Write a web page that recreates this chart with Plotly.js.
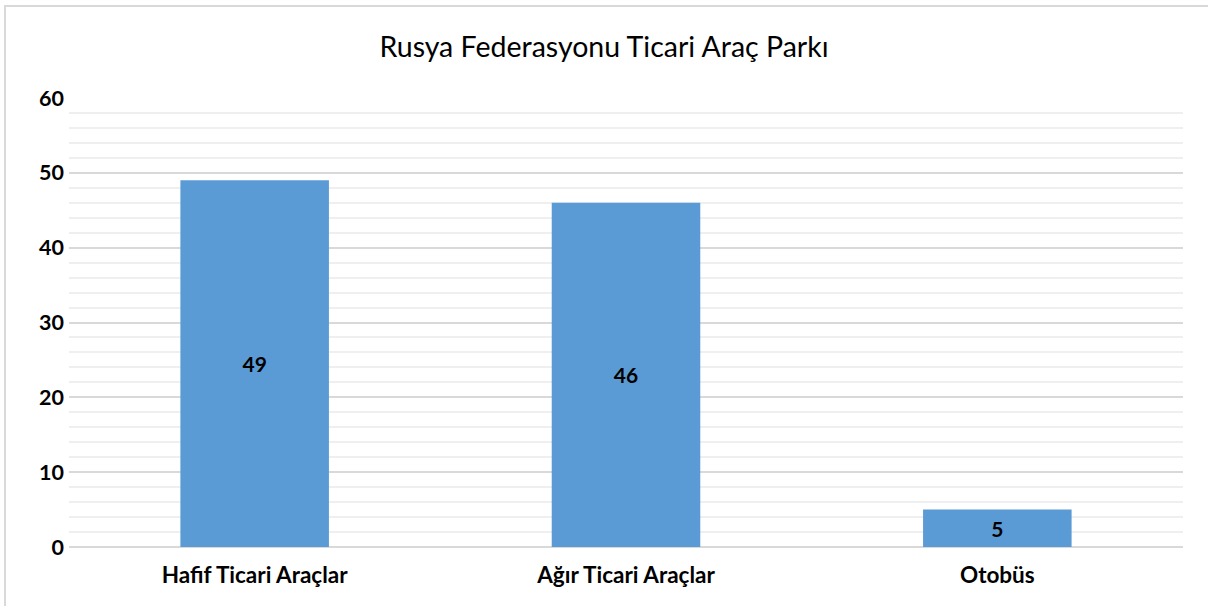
<!DOCTYPE html>
<html>
<head>
<meta charset="utf-8">
<script src="https://cdn.plot.ly/plotly-3.0.1.min.js"></script>
<style>
  html, body { margin: 0; padding: 0; background: #fff; }
  #wrap { position: relative; width: 1208px; height: 606px; }
  #chart { width: 1208px; height: 606px; }
  .bt { position: absolute; left: 4px; top: 5px; width: 1204px; height: 0; border-top: 2px solid #d9d9d9; }
  .bl { position: absolute; left: 4px; top: 5px; width: 0; height: 601px; border-left: 2px solid #d9d9d9; }
</style>
</head>
<body>
<div id="wrap">
  <div id="chart"></div>
  <div class="bt"></div>
  <div class="bl"></div>
</div>
<script>
const categories = ["Hafif Ticari Araçlar", "Ağır Ticari Araçlar", "Otobüs"];
const values = [49, 46, 5];
const chartTitle = "Rusya Federasyonu Ticari Araç Parkı";

const FONT = "Lato, 'Open Sans', sans-serif";

const trace = {
  type: "bar",
  x: categories,
  y: values,
  text: values.map(String),
  textposition: "inside",
  insidetextanchor: "middle",
  textangle: 0,
  textfont: { family: FONT, size: 21, color: "#000", weight: "bold" },
  marker: { color: "#5B9BD5" },
  width: 0.4,
  hoverinfo: "none"
};

const layout = {
  width: 1208,
  height: 606,
  margin: { l: 69, r: 25, t: 98, b: 59 },
  paper_bgcolor: "rgba(0,0,0,0)",
  plot_bgcolor: "#fff",
  showlegend: false,
  bargap: 0.6,
  title: {
    text: chartTitle,
    font: { family: FONT, size: 28.5, color: "#000" },
    x: 0.5, xanchor: "center",
    y: 0.922, yanchor: "middle"
  },
  xaxis: {
    type: "category",
    showgrid: false,
    showline: false,
    zeroline: false,
    ticks: "",
    tickfont: { family: FONT, size: 22.5, color: "#000", weight: "bold" },
    ticklabelstandoff: 12
  },
  yaxis: {
    range: [0, 60],
    dtick: 10,
    showline: false,
    zeroline: true,
    zerolinecolor: "#d9d9d9",
    zerolinewidth: 2,
    gridcolor: "#d9d9d9",
    gridwidth: 2,
    ticks: "",
    tickfont: { family: FONT, size: 21.5, color: "#000", weight: "bold" },
    ticklabelstandoff: 4,
    minor: { dtick: 2, showgrid: true, gridcolor: "#efefef", gridwidth: 2 }
  }
};

Plotly.newPlot("chart", [trace], layout, { displayModeBar: false, staticPlot: true });
</script>
</body>
</html>
